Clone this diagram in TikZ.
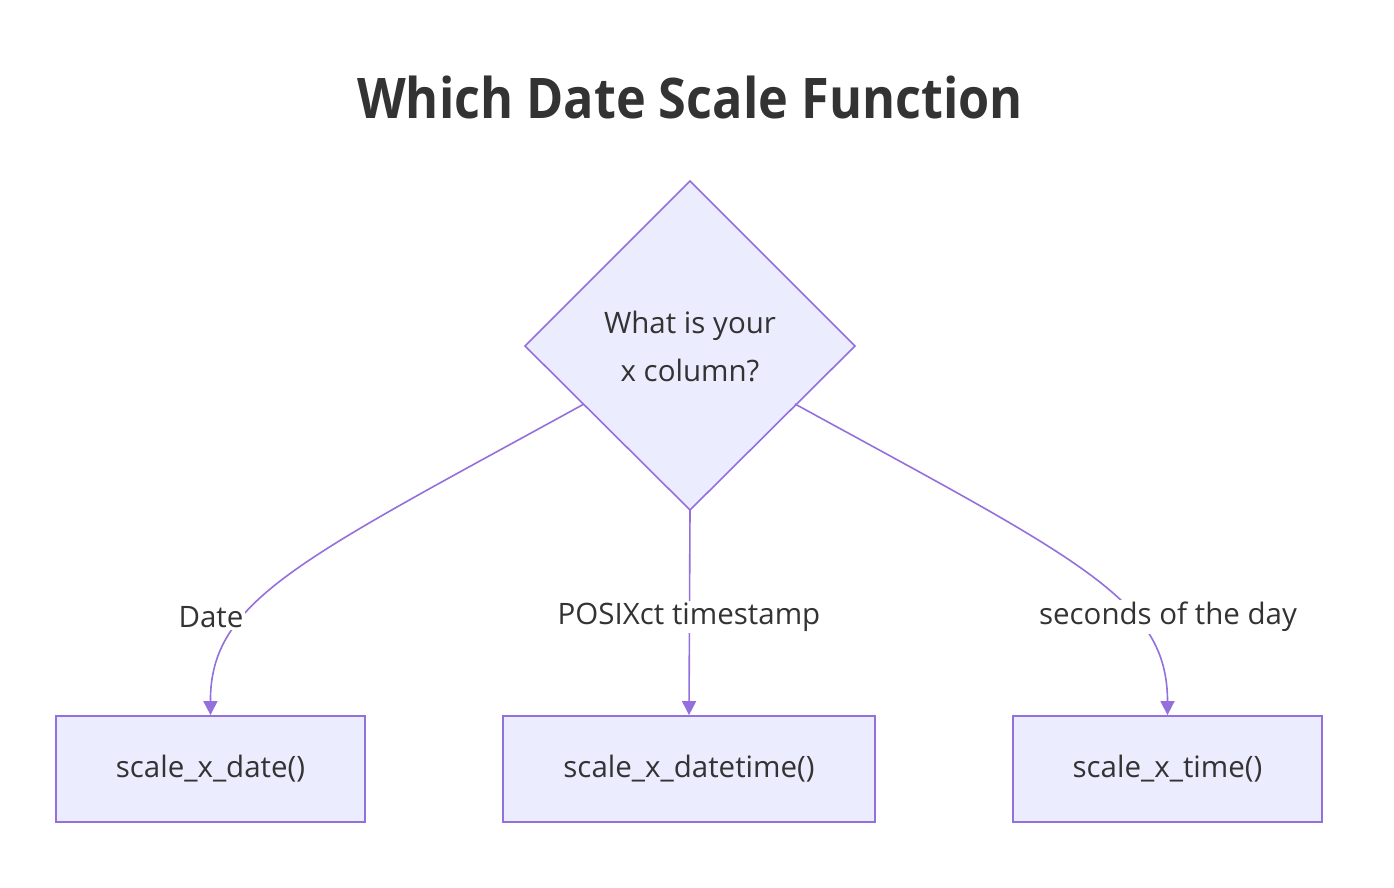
\documentclass[tikz,border=0pt]{standalone}
\usepackage{fontspec}
\setmainfont{Open Sans}
\usetikzlibrary{arrows.meta}
\definecolor{edgec}{HTML}{9370DB}
\definecolor{nodefill}{HTML}{ECECFF}
\definecolor{txt}{HTML}{333333}
\tikzset{
  box/.style={draw=edgec, fill=nodefill, line width=1.8pt, minimum width=309pt, minimum height=106pt, inner sep=0pt, font=\fontsize{29.5}{34}\selectfont, text=txt},
  edge/.style={draw=edgec, line width=1.6pt, -{Triangle[length=14pt,width=14pt]}},
  elabel/.style={fill=white, inner sep=2pt, font=\fontsize{29.5}{34}\selectfont, text=txt},
}
\begin{document}
\begin{tikzpicture}[x=1pt,y=-1pt]
\useasboundingbox (0,0) rectangle (1394,888);
\node[text=txt, font=\fontsize{56}{60}\selectfont\bfseries] (title) at (690,97) {\scalebox{0.9}[1]{Which Date Scale Function}};
\coordinate (dtop) at (690,181);
\coordinate (dleft) at (525,346);
\coordinate (dright) at (855,346);
\coordinate (dbot) at (690,510);
\draw[draw=edgec, fill=nodefill, line width=1.6pt] (dtop) -- (dright) -- (dbot) -- (dleft) -- cycle;
\node[text=txt, align=center, font=\fontsize{29.5}{48}\selectfont] (q) at (690,346) {What is your\\x column?};
\node[box] (b1) at (210.5,769) {\raisebox{-3pt}{scale\_x\_date()}};
\node[box, minimum width=372pt] (b2) at (689,769) {\raisebox{-3pt}{scale\_x\_datetime()}};
\node[box] (b3) at (1167.5,769) {\raisebox{-3pt}{scale\_x\_time()}};
\coordinate (s1) at (584,404);
\coordinate (s3) at (795,404);
\draw[edge] (s1) .. controls (300,560) and (210,600) .. (b1.north);
\draw[edge] (dbot) -- (b2.north);
\draw[edge] (s3) .. controls (1080,560) and (1167.5,600) .. (b3.north);
\node[elabel] (l1) at (211,617) {Date};
\node[elabel] (l2) at (689,617) {POSIXct timestamp};
\node[elabel] (l3) at (1168,617) {seconds of the day};
\end{tikzpicture}
\end{document}
